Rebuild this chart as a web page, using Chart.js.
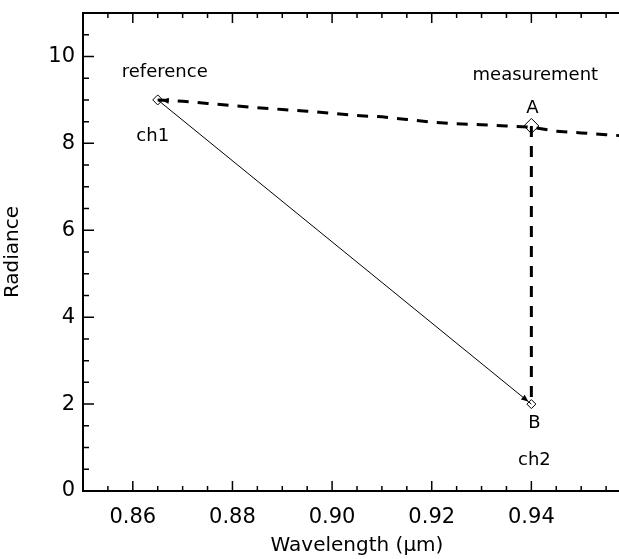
<!DOCTYPE html>
<html>
<head>
<meta charset="utf-8">
<script src="https://cdn.jsdelivr.net/npm/chart.js@4/dist/chart.umd.min.js"></script>
<style>
    body { margin: 0; background: #fff; overflow: hidden; }
    #grafico { display: block; }
</style>
</head>
<body>
<canvas id="grafico" width="660" height="559"></canvas>
<script>
// dados
const comprimentoOnda = [0.865, 0.870, 0.875, 0.880, 0.885, 0.890, 0.895, 0.900, 0.905, 0.910,
                         0.915, 0.920, 0.925, 0.930, 0.935, 0.940, 0.945, 0.950, 0.955, 0.960];
const radianciaCurva = [9.00, 8.97, 8.92, 8.87, 8.82, 8.78, 8.74, 8.69, 8.64, 8.61,
                        8.55, 8.49, 8.45, 8.43, 8.40, 8.37, 8.28, 8.24, 8.20, 8.16];

const canais = ["ch1", "A", "B"];
const canalX = [0.865, 0.940, 0.940];
const canalY = [9.0, 8.4, 2.0];

const xMarcas = [0.85, 0.855, 0.86, 0.865, 0.87, 0.875, 0.88, 0.885, 0.89, 0.895, 0.90,
                 0.905, 0.91, 0.915, 0.92, 0.925, 0.93, 0.935, 0.94, 0.945, 0.95, 0.955, 0.96];
const xRotulos = [0.86, 0.88, 0.90, 0.92, 0.94];
const yMarcas = [0, 0.5, 1, 1.5, 2, 2.5, 3, 3.5, 4, 4.5, 5, 5.5, 6, 6.5, 7, 7.5, 8, 8.5, 9, 9.5, 10, 10.5, 11];
const yRotulos = [0, 2, 4, 6, 8, 10];

const fonte = "'DejaVu Sans', sans-serif";

function ehRotulo(v, lista) {
    return lista.some(m => Math.abs(m - v) < 1e-6);
}

function ponto(i) {
    return { x: canalX[i], y: canalY[i] };
}

// zera o espaço extra que o Chart.js reserva para os rótulos das pontas
function semFolga(s) {
    s.paddingTop = 0;
    s.paddingBottom = 0;
    s.paddingLeft = 0;
    s.paddingRight = 0;
}

// setinha preenchida com a ponta em (x2, y2)
function seta(ctx, x1, y1, x2, y2, recuo) {
    const ang = Math.atan2(y2 - y1, x2 - x1);
    const px = x2 - Math.cos(ang) * recuo;
    const py = y2 - Math.sin(ang) * recuo;
    ctx.beginPath();
    ctx.moveTo(px, py);
    ctx.lineTo(px - Math.cos(ang) * 7 + Math.sin(ang) * 3, py - Math.sin(ang) * 7 - Math.cos(ang) * 3);
    ctx.lineTo(px - Math.cos(ang) * 7 - Math.sin(ang) * 3, py - Math.sin(ang) * 7 + Math.cos(ang) * 3);
    ctx.closePath();
    ctx.fill();
}

const marcasPlugin = {
    id: 'marcas',
    afterDraw(chart) {
        const ctx = chart.ctx;
        const sx = chart.scales.x;
        const sy = chart.scales.y;
        const area = chart.chartArea;
        ctx.save();
        ctx.strokeStyle = '#000';
        ctx.fillStyle = '#000';
        ctx.lineWidth = 1.5;

        // marcas para dentro, como no IDL
        ctx.beginPath();
        xMarcas.forEach(v => {
            const px = sx.getPixelForValue(v);
            const len = ehRotulo(v, xRotulos) ? 10 : 5;
            ctx.moveTo(px, area.bottom);
            ctx.lineTo(px, area.bottom - len);
            ctx.moveTo(px, area.top);
            ctx.lineTo(px, area.top + len);
        });
        yMarcas.forEach(v => {
            const py = sy.getPixelForValue(v);
            const len = ehRotulo(v, yRotulos) ? 11 : 6;
            ctx.moveTo(area.left, py);
            ctx.lineTo(area.left + len, py);
            ctx.moveTo(area.right, py);
            ctx.lineTo(area.right - len, py);
        });
        ctx.stroke();

        // setas
        const c1x = sx.getPixelForValue(canalX[0]), c1y = sy.getPixelForValue(canalY[0]);
        const bx = sx.getPixelForValue(canalX[2]), by = sy.getPixelForValue(canalY[2]);
        const qx = sx.getPixelForValue(comprimentoOnda[2]), qy = sy.getPixelForValue(radianciaCurva[2]);
        seta(ctx, qx, qy, c1x, c1y, 4);
        seta(ctx, c1x, c1y, bx, by, 4);

        // textos
        const ax = sx.getPixelForValue(canalX[1]), ay = sy.getPixelForValue(canalY[1]);
        ctx.font = "18px " + fonte;
        ctx.textAlign = 'center';
        ctx.textBaseline = 'middle';
        ctx.fillText('reference', c1x + 7, c1y - 28);
        ctx.fillText('ch1', c1x - 5, c1y + 36);
        ctx.fillText('measurement', ax + 4, ay - 51);
        ctx.fillText('A', ax + 1, ay - 18);
        ctx.fillText('B', bx + 3, by + 19);
        ctx.fillText('ch2', bx + 3, by + 56);
        ctx.restore();
    }
};

function eixoX(posicao, altura, mostrar) {
    return {
        type: 'linear',
        position: posicao,
        min: 0.85,
        max: 0.96,
        afterBuildTicks: s => { s.ticks = xMarcas.map(v => ({ value: v })); },
        afterFit: s => { s.height = altura; semFolga(s); },
        grid: { drawOnChartArea: false, drawTicks: false },
        border: { color: '#000', width: 2 },
        ticks: {
            display: mostrar,
            autoSkip: false,
            maxRotation: 0,
            padding: 14,
            color: '#000',
            font: { family: fonte, size: 21 },
            callback: v => ehRotulo(v, xRotulos) ? v.toFixed(2) : ''
        },
        title: {
            display: mostrar,
            text: 'Wavelength (\u03bcm)',
            color: '#000',
            padding: 0,
            font: { family: fonte, size: 20, lineHeight: 1.3 }
        }
    };
}

function eixoY(posicao, largura, mostrar) {
    return {
        type: 'linear',
        position: posicao,
        min: 0,
        max: 11,
        afterBuildTicks: s => { s.ticks = yMarcas.map(v => ({ value: v })); },
        afterFit: s => { s.width = largura; semFolga(s); },
        grid: { drawOnChartArea: false, drawTicks: false },
        border: { color: '#000', width: 2 },
        ticks: {
            display: mostrar,
            autoSkip: false,
            padding: 8,
            color: '#000',
            font: { family: fonte, size: 21 },
            callback: v => ehRotulo(v, yRotulos) ? String(v) : ''
        },
        title: {
            display: mostrar,
            text: 'Radiance',
            color: '#000',
            padding: 0,
            font: { family: fonte, size: 20, lineHeight: 1.3 }
        }
    };
}

const ctx = document.getElementById('grafico').getContext('2d');
new Chart(ctx, {
    type: 'scatter',
    data: {
        datasets: [
            {
                label: 'espectro',
                data: comprimentoOnda.map((x, i) => ({ x: x, y: radianciaCurva[i] })),
                showLine: true,
                borderColor: '#000',
                borderWidth: 3,
                borderDash: [11, 9],
                pointRadius: 0
            },
            {
                label: 'A-B',
                data: [ponto(1), ponto(2)],
                showLine: true,
                borderColor: '#000',
                borderWidth: 3,
                borderDash: [11, 9],
                pointRadius: 0
            },
            {
                label: 'ch1-ch2',
                data: [ponto(0), ponto(2)],
                showLine: true,
                borderColor: '#000',
                borderWidth: 1,
                pointRadius: 0
            },
            {
                label: 'canais',
                data: canais.map((c, i) => ponto(i)),
                pointStyle: 'rectRot',
                pointRadius: [5, 7.5, 4.5],
                pointBackgroundColor: '#fff',
                pointBorderColor: '#000',
                pointBorderWidth: 1
            }
        ]
    },
    options: {
        responsive: false,
        animation: false,
        layout: { padding: { top: 13, right: 29, left: 0, bottom: 0 } },
        plugins: {
            legend: { display: false },
            tooltip: { enabled: false }
        },
        scales: {
            x: eixoX('bottom', 68, true),
            x2: eixoX('top', 0, false),
            y: eixoY('left', 83, true),
            y2: eixoY('right', 0, false)
        }
    },
    plugins: [marcasPlugin]
});
</script>
</body>
</html>
